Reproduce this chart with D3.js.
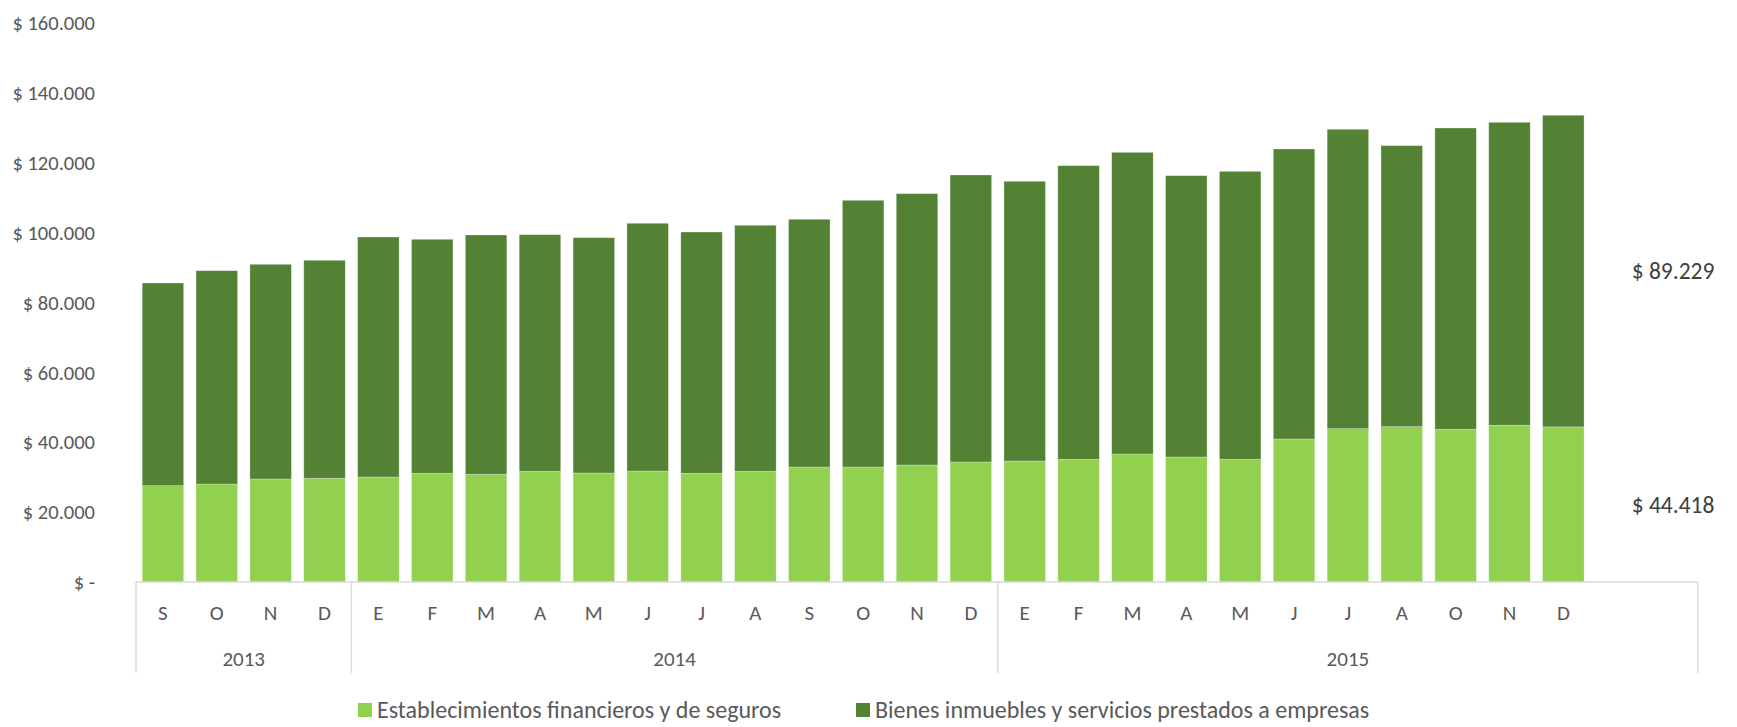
<!DOCTYPE html>
<html>
<head>
<meta charset="utf-8">
<script src="https://cdn.jsdelivr.net/npm/d3@7"></script>
<style>
  body { margin: 0; background: #fff; }
  text { font-family: Carlito, Calibri, Lato, sans-serif; }
</style>
</head>
<body>
<svg id="svg" width="1737" height="727"></svg>
<script>
// months on the axis (last two slots are empty, used for the end labels)
var months = ["S","O","N","D",
  "E","F","M","A","M","J","J","A","S","O","N","D",
  "E","F","M","A","M","J","J","A","O","N","D","",""];
var years = ["2013","2013","2013","2013",
  "2014","2014","2014","2014","2014","2014","2014","2014","2014","2014","2014","2014",
  "2015","2015","2015","2015","2015","2015","2015","2015","2015","2015","2015","2015","2015"];

// Establecimientos financieros y de seguros
var financieros = [27580, 28060, 29490, 29690,
  30060, 31120, 30840, 31700, 31210, 31780, 31120, 31690, 32930, 32930, 33500, 34360,
  34650, 35130, 36650, 35790, 35130, 40950, 43900, 44470, 43720, 44870, 44418];
// Bienes inmuebles y servicios prestados a empresas
var inmuebles = [58030, 61080, 61470, 62420,
  68720, 67000, 68520, 67750, 67380, 70930, 69090, 70440, 70920, 76360, 77690, 82180,
  80080, 84070, 86370, 80550, 82450, 83030, 85720, 80470, 86270, 86750, 89229];

var seriesNames = ["Establecimientos financieros y de seguros",
  "Bienes inmuebles y servicios prestados a empresas"];
var colors = ["#92D050", "#548235"];
var yTicks = [0, 20000, 40000, 60000, 80000, 100000, 120000, 140000, 160000];

var svg = d3.select("#svg");

var locale = d3.formatLocale({decimal: ",", thousands: ".", grouping: [3], currency: ["$ ", ""]});
var money = locale.format("$,.0f");

var x = d3.scaleBand()
    .domain(d3.range(months.length))
    .range([136, 1698])
    .paddingInner(0.23)
    .paddingOuter(0.115);

var y = d3.scaleLinear()
    .domain([0, 160000])
    .range([582, 23.2]);

// stacked data
var rows = financieros.map(function(v, i) {
    return {i: i, fin: v, inm: inmuebles[i]};
});
var stack = d3.stack().keys(["fin", "inm"]);
var layers = stack(rows);

svg.append("g")
    .selectAll("g")
    .data(layers)
    .enter()
    .append("g")
    .attr("fill", function(d, k) { return colors[k]; })
    .selectAll("rect")
    .data(function(d) { return d; })
    .enter()
    .append("rect")
    .attr("x", function(d) { return x(d.data.i); })
    .attr("width", x.bandwidth())
    .attr("y", function(d) { return y(d[1]); })
    .attr("height", function(d) { return y(d[0]) - y(d[1]); })
    .attr("stroke", "#ffffff")
    .attr("stroke-opacity", 0.35)
    .attr("stroke-width", 0.75);

// y axis labels
var yAxis = svg.append("g")
    .attr("transform", "translate(95,0)")
    .call(d3.axisLeft(y)
        .tickValues(yTicks)
        .tickSize(0)
        .tickPadding(0)
        .tickFormat(function(d) { return d === 0 ? "$ -  " : money(d); }));
yAxis.select(".domain").remove();
yAxis.selectAll("text")
    .attr("fill", "#595959")
    .style("font-size", "20.5px")
    .style("font-family", "Carlito, Calibri, Lato, sans-serif");

// category axis with the grouped box
var axisG = svg.append("g").attr("stroke", "#d9d9d9").attr("stroke-width", 1.3);
axisG.append("line")
    .attr("x1", x.range()[0]).attr("x2", x.range()[1])
    .attr("y1", y(0)).attr("y2", y(0));

var groups = [];
years.forEach(function(yr, i) {
    if (!groups.length || groups[groups.length - 1].year !== yr) groups.push({year: yr, start: i, end: i});
    else groups[groups.length - 1].end = i;
});
var step = x.step();
function edge(i) { return x.range()[0] + i * step; }

var bounds = [0].concat(groups.map(function(g) { return g.end + 1; }));
axisG.selectAll("line.sep")
    .data(bounds)
    .enter()
    .append("line")
    .attr("class", "sep")
    .attr("x1", function(d) { return edge(d); })
    .attr("x2", function(d) { return edge(d); })
    .attr("y1", y(0))
    .attr("y2", 673);

svg.append("g")
    .selectAll("text")
    .data(months)
    .enter()
    .append("text")
    .attr("x", function(d, i) { return x(i) + x.bandwidth() / 2; })
    .attr("y", 613)
    .attr("dy", "0.35em")
    .attr("text-anchor", "middle")
    .attr("fill", "#595959")
    .style("font-size", "21px")
    .text(function(d) { return d; });

svg.append("g")
    .selectAll("text")
    .data(groups)
    .enter()
    .append("text")
    .attr("x", function(g) { return (edge(g.start) + edge(g.end + 1)) / 2; })
    .attr("y", 659)
    .attr("dy", "0.35em")
    .attr("text-anchor", "middle")
    .attr("fill", "#595959")
    .style("font-size", "21px")
    .text(function(g) { return g.year; });

// end labels for the last bar, placed in the last slot
var last = rows[rows.length - 1];
var endLabels = [
    {v: last.fin, mid: last.fin / 2},
    {v: last.inm, mid: last.fin + last.inm / 2}
];
svg.append("g")
    .selectAll("text")
    .data(endLabels)
    .enter()
    .append("text")
    .attr("x", x(months.length - 1) + x.bandwidth() / 2 + 2)
    .attr("y", function(d) { return y(d.mid); })
    .attr("dy", "0.35em")
    .attr("text-anchor", "middle")
    .attr("fill", "#404040")
    .style("font-size", "23.5px")
    .text(function(d) { return money(d.v); });

// legend
var legendX = [358, 856];
var legend = svg.append("g")
    .selectAll("g")
    .data(seriesNames)
    .enter()
    .append("g")
    .attr("transform", function(d, i) { return "translate(" + legendX[i] + ",710)"; });
legend.append("rect")
    .attr("x", 0).attr("y", -7)
    .attr("width", 14).attr("height", 14)
    .attr("fill", function(d, i) { return colors[i]; });
legend.append("text")
    .attr("x", 19)
    .attr("dy", "0.35em")
    .attr("fill", "#595959")
    .style("font-size", "24px")
    .text(function(d) { return d; });
</script>
</body>
</html>
